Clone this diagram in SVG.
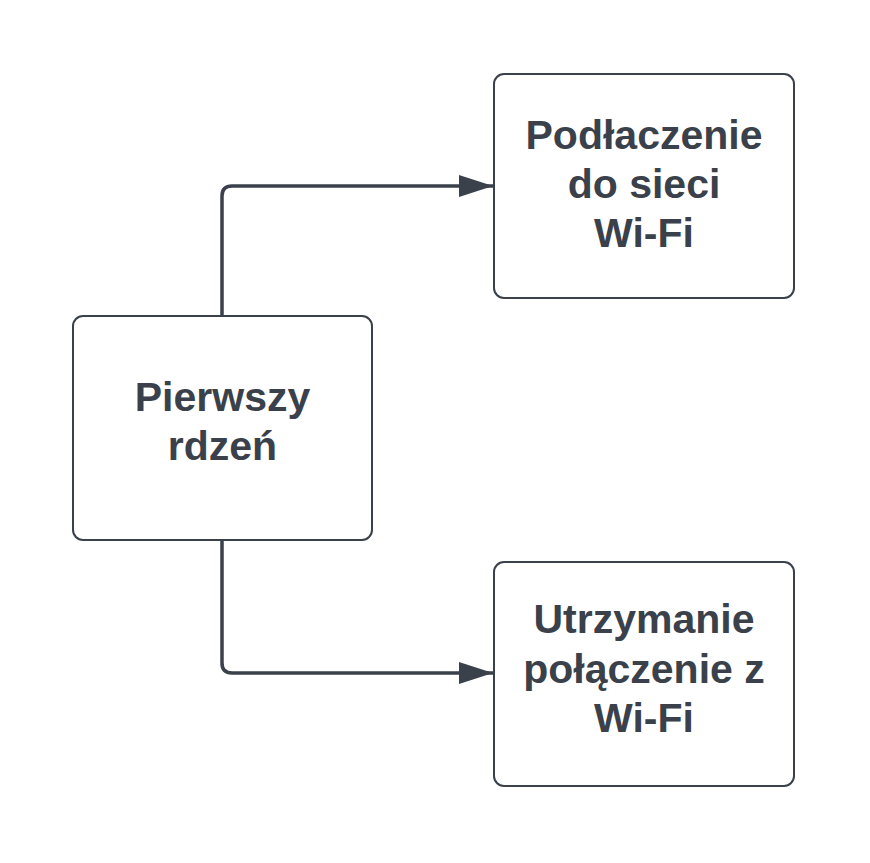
<svg xmlns="http://www.w3.org/2000/svg" width="870" height="863" viewBox="0 0 870 863">
<defs>
<style>
.box{fill:#ffffff;stroke:#3a414a;stroke-width:2}
.lbl{font-family:"Liberation Sans",Arial,sans-serif;font-weight:bold;font-size:41px;fill:#3a414a;text-anchor:middle}
.conn{fill:none;stroke:#3a414a;stroke-width:3.5}
</style>
<marker id="arr" markerUnits="userSpaceOnUse" markerWidth="36" markerHeight="24" refX="34" refY="11" orient="auto">
<path d="M0,0 L34,11 L0,22 Z" fill="#3a414a"/>
</marker>
</defs>
<rect width="870" height="863" fill="#ffffff"/>
<g id="connectors">
<path class="conn" d="M222,316 L222,196 Q222,186 232,186 L493,186" marker-end="url(#arr)"/>
<path class="conn" d="M222,540 L222,663 Q222,673 232,673 L493,673" marker-end="url(#arr)"/>
</g>
<g id="node-core">
<rect class="box" x="73" y="316" width="299" height="224" rx="10"/>
<text class="lbl" x="222.5" y="411">Pierwszy</text>
<text class="lbl" x="222.5" y="460">rdzeń</text>
</g>
<g id="node-wifi-connect">
<rect class="box" x="494" y="74" width="300" height="224" rx="10"/>
<text class="lbl" x="644" y="149">Podłaczenie</text>
<text class="lbl" x="644" y="198">do sieci</text>
<text class="lbl" x="644" y="247">Wi-Fi</text>
</g>
<g id="node-wifi-keep">
<rect class="box" x="494" y="562" width="300" height="224" rx="10"/>
<text class="lbl" x="644" y="633">Utrzymanie</text>
<text class="lbl" x="644" y="683">połączenie z</text>
<text class="lbl" x="644" y="732">Wi-Fi</text>
</g>
</svg>
